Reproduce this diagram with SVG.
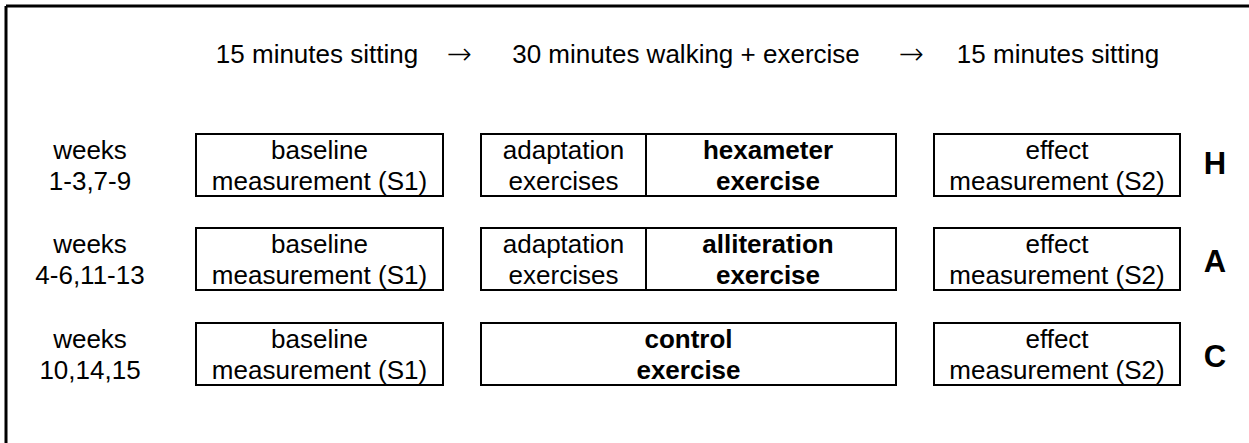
<svg xmlns="http://www.w3.org/2000/svg" width="1249" height="443" viewBox="0 0 1249 443">
<style>
text{font-family:"Liberation Sans",Arial,sans-serif;font-size:26px;fill:#000;text-anchor:middle}
.b{font-weight:bold}
.big{font-weight:bold;font-size:31px}
.arr{font-family:"DejaVu Sans",sans-serif;font-size:30px;font-weight:200}
.box,line{fill:none;stroke:#000;stroke-width:2}
.frame{stroke-width:3}
</style>
<rect width="1249" height="443" fill="#fff"/>
<g id="frame">
<line class="frame" x1="6" y1="6" x2="1249" y2="6"/>
<line class="frame" x1="6" y1="6" x2="6" y2="443"/>
</g>
<g id="header">
<text x="317" y="63">15 minutes sitting</text>
<text class="arr" x="459" y="64">→</text>
<text x="686" y="63">30 minutes walking + exercise</text>
<text class="arr" x="911" y="64">→</text>
<text x="1058" y="63">15 minutes sitting</text>
</g>
<g id="row-H">
<text x="90" y="159">weeks</text>
<text x="90" y="190">1-3,7-9</text>
<g id="H-baseline"><rect class="box" x="196" y="134" width="247" height="62"/><text x="319.5" y="159">baseline</text><text x="319.5" y="190">measurement (S1)</text></g>
<g id="H-exercise"><rect class="box" x="481" y="134" width="415" height="62"/><line x1="646" y1="134" x2="646" y2="196"/>
<text x="563.5" y="159">adaptation</text><text x="563.5" y="190">exercises</text>
<text class="b" x="768" y="159">hexameter</text><text class="b" x="768" y="190">exercise</text></g>
<g id="H-effect"><rect class="box" x="934" y="134" width="246" height="62"/><text x="1057" y="159">effect</text><text x="1057" y="190">measurement (S2)</text></g>
<text class="big" x="1215" y="174">H</text>
</g>
<g id="row-A">
<text x="90" y="253">weeks</text>
<text x="90" y="284">4-6,11-13</text>
<g id="A-baseline"><rect class="box" x="196" y="228" width="247" height="62"/><text x="319.5" y="253">baseline</text><text x="319.5" y="284">measurement (S1)</text></g>
<g id="A-exercise"><rect class="box" x="481" y="228" width="415" height="62"/><line x1="646" y1="228" x2="646" y2="290"/>
<text x="563.5" y="253">adaptation</text><text x="563.5" y="284">exercises</text>
<text class="b" x="768" y="253">alliteration</text><text class="b" x="768" y="284">exercise</text></g>
<g id="A-effect"><rect class="box" x="934" y="228" width="246" height="62"/><text x="1057" y="253">effect</text><text x="1057" y="284">measurement (S2)</text></g>
<text class="big" x="1215" y="272">A</text>
</g>
<g id="row-C">
<text x="90" y="348">weeks</text>
<text x="90" y="379">10,14,15</text>
<g id="C-baseline"><rect class="box" x="196" y="323" width="247" height="62"/><text x="319.5" y="348">baseline</text><text x="319.5" y="379">measurement (S1)</text></g>
<g id="C-exercise"><rect class="box" x="481" y="323" width="415" height="62"/>
<text class="b" x="688.5" y="348">control</text><text class="b" x="688.5" y="379">exercise</text></g>
<g id="C-effect"><rect class="box" x="934" y="323" width="246" height="62"/><text x="1057" y="348">effect</text><text x="1057" y="379">measurement (S2)</text></g>
<text class="big" x="1215" y="367">C</text>
</g>
<g id="connectors"></g>
</svg>
